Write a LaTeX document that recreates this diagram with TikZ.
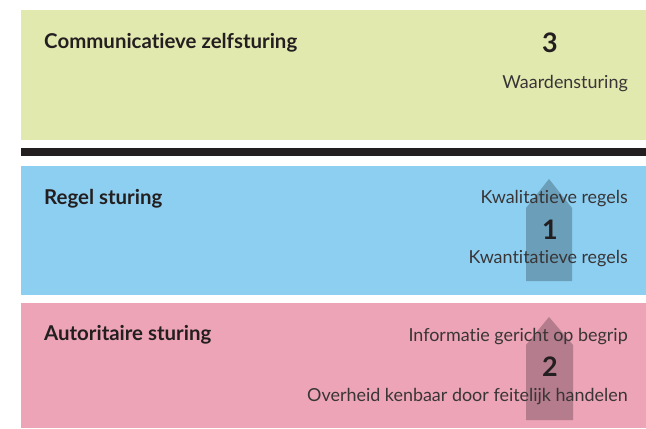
\documentclass[tikz,border=0pt]{standalone}
\usepackage{fontspec}
\setmainfont{Lato}[Ligatures={NoCommon}]
\definecolor{gbox}{HTML}{E2E9AF}
\definecolor{bbox}{HTML}{8DCFF1}
\definecolor{pbox}{HTML}{ECA4B6}
\definecolor{ink}{HTML}{231F20}
\definecolor{barrow}{HTML}{6A9EB9}
\definecolor{parrow}{HTML}{B47C8D}
\begin{document}
\begin{tikzpicture}[x=1bp,y=-1bp,
  title/.style={anchor=base west,font=\bfseries\fontsize{20.5}{22}\selectfont,text=ink,inner sep=0},
  sub/.style={anchor=base east,font=\fontsize{18}{20}\selectfont,text=ink!90,inner sep=0},
  num/.style={anchor=base,font=\bfseries\fontsize{27}{29}\selectfont,text=ink,inner sep=0}]
\useasboundingbox (0,0) rectangle (646,428);
\fill[white] (0,0) rectangle (646,428);
\fill[gbox] (21,10) rectangle (646,140);
\fill[ink] (21,148) rectangle (646,156);
\fill[bbox] (21,166) rectangle (646,295);
\fill[pbox] (21,303) rectangle (646,428);
% arrows
\fill[barrow] (526,281) -- (526,208) -- (549,179) -- (572,208) -- (572,281) -- cycle;
\fill[parrow] (526,420) -- (526,345) -- (549,317) -- (573,345) -- (573,420) -- cycle;
% texts
\node[title] (t3) at (44,48.5) {Communicatieve zelfsturing};
\node[num] (n3) at (550,52) {3};
\node[sub] (s3) at (628,88) {Waardensturing};
\node[title] (t1) at (44,204) {Regel sturing};
\node[sub] (s1a) at (628,203) {Kwalitatieve regels};
\node[num] (n1) at (550,239.5) {1};
\node[sub] (s1b) at (628,263) {Kwantitatieve regels};
\node[title] (t2) at (44,340.5) {Autoritaire sturing};
\node[sub] (s2a) at (628,341) {Informatie gericht op begrip};
\node[num] (n2) at (550,376) {2};
\node[sub] (s2b) at (628,401.5) {Overheid kenbaar door feitelijk handelen};
\end{tikzpicture}
\end{document}
